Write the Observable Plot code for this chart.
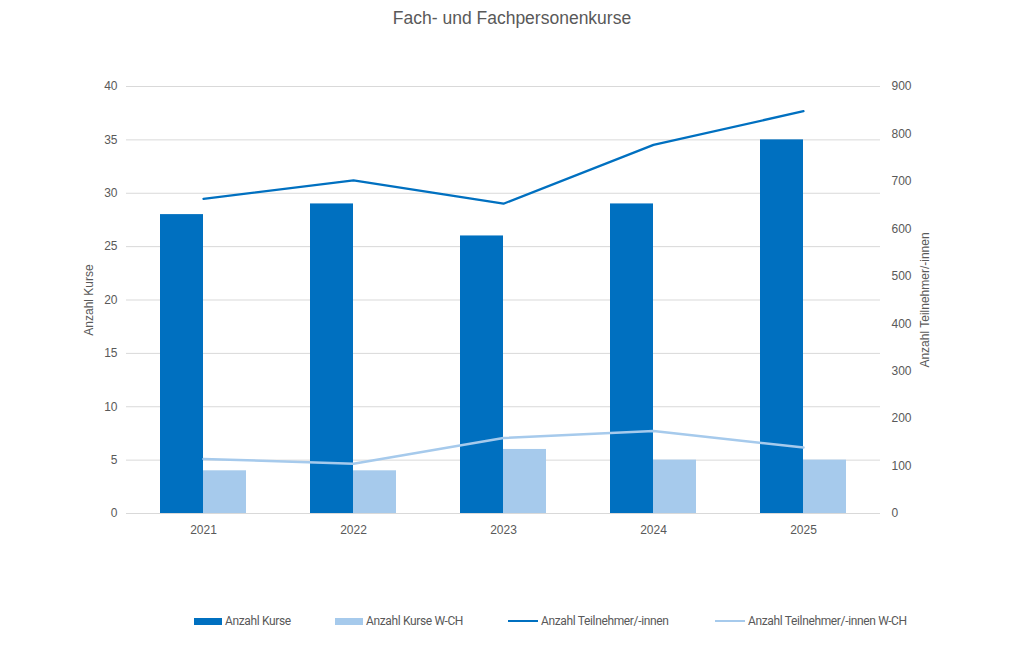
<!DOCTYPE html>
<html>
<head>
<meta charset="utf-8">
<script src="https://cdn.jsdelivr.net/npm/d3@7"></script>
<script src="https://cdn.jsdelivr.net/npm/@observablehq/plot@0.6"></script>
<style>
  html, body { margin: 0; padding: 0; background: #fff; }
  #wrap { position: relative; width: 1024px; height: 663px; font-family: "Liberation Sans", Arial, sans-serif; }
  #title { height: 36px; line-height: 37px; text-align: center; font-size: 17.5px; color: #595959; }
  #chart svg { display: block; }
  .leg { position: absolute; top: 612px; height: 18px; display: flex; align-items: center; font-family: Roboto, sans-serif; font-size: 12px; color: #595959; letter-spacing: -0.35px; white-space: nowrap; }
  .sw { display: inline-block; margin-right: 3px; }
</style>
</head>
<body>
<div id="wrap">
  <div id="title">Fach- und Fachpersonenkurse</div>
  <div id="chart"></div>
  <div id="legend"></div>
</div>
<script>
const years = ["2021", "2022", "2023", "2024", "2025"];
const kurse = [28, 29, 26, 29, 35];
const kurseWCH = [4, 4, 6, 5, 5];
const teilnehmer = [663, 702, 653, 777, 848];
const teilnehmerWCH = [115, 105, 159, 174, 139];
const leftTicks = [0, 5, 10, 15, 20, 25, 30, 35, 40];
const rightTicks = [0, 100, 200, 300, 400, 500, 600, 700, 800, 900];
const seriesNames = ["Anzahl Kurse", "Anzahl Kurse W-CH", "Anzahl Teilnehmer/-innen", "Anzahl Teilnehmer/-innen W-CH"];

const dark = "#0070C0";
const light = "#A6CAEC";
const ratio = 900 / 40; // right axis max / left axis max

const rows = years.map((year, i) => ({
  year,
  kurse: kurse[i],
  kurseWCH: kurseWCH[i],
  teil: teilnehmer[i] / ratio,
  teilWCH: teilnehmerWCH[i] / ratio
}));

const chart = Plot.plot({
  width: 1024,
  height: 560,
  marginLeft: 126,
  marginRight: 144,
  marginTop: 50,
  marginBottom: 83,
  style: { fontFamily: "'Liberation Sans', Arial, sans-serif", fontSize: "12px", color: "#595959", background: "#fff" },
  x: { type: "band", domain: years, paddingInner: 0.43, paddingOuter: 0.215, label: null },
  y: { domain: [0, 40], label: null },
  marks: [
    Plot.gridY(leftTicks, { stroke: "#d9d9d9", strokeOpacity: 1, strokeWidth: 1 }),
    Plot.barY(rows, { x: "year", y: "kurse", fill: dark, insetRight: 43 }),
    Plot.barY(rows, { x: "year", y: "kurseWCH", fill: light, insetLeft: 43 }),
    Plot.line(rows, { x: "year", y: "teil", stroke: dark, strokeWidth: 2.25 }),
    Plot.line(rows, { x: "year", y: "teilWCH", stroke: light, strokeWidth: 2.5 }),
    Plot.axisX({ tickSize: 0, tickPadding: 12, label: null }),
    Plot.axisY(leftTicks, { anchor: "left", tickSize: 0, tickPadding: 9, label: null }),
    Plot.axisY(rightTicks.map(v => v / ratio), { anchor: "right", tickSize: 0, tickPadding: 11, tickFormat: d => String(Math.round(d * ratio)), label: null }),
    Plot.text(["Anzahl Kurse"], { frameAnchor: "left", textAnchor: "middle", dx: -37, rotate: -90, fill: "#595959", fontSize: 12 }),
    Plot.text(["Anzahl Teilnehmer/-innen"], { frameAnchor: "right", textAnchor: "middle", dx: 45, rotate: -90, fill: "#595959", fontSize: 12 })
  ]
});
document.getElementById("chart").appendChild(chart);

// Legend
const legendItems = [
  { name: seriesNames[0], color: dark, type: "rect", left: 194 },
  { name: seriesNames[1], color: light, type: "rect", left: 335 },
  { name: seriesNames[2], color: dark, type: "line", left: 508 },
  { name: seriesNames[3], color: light, type: "line", left: 715 }
];
const legend = document.getElementById("legend");
for (const it of legendItems) {
  const d = document.createElement("div");
  d.className = "leg";
  d.style.left = it.left + "px";
  const sw = document.createElement("span");
  sw.className = "sw";
  sw.style.width = (it.type === "rect" ? 28 : 30) + "px";
  sw.style.height = (it.type === "rect" ? 7 : 2.5) + "px";
  sw.style.background = it.color;
  d.appendChild(sw);
  const t = document.createElement("span");
  t.textContent = it.name;
  d.appendChild(t);
  legend.appendChild(d);
}
</script>
</body>
</html>
